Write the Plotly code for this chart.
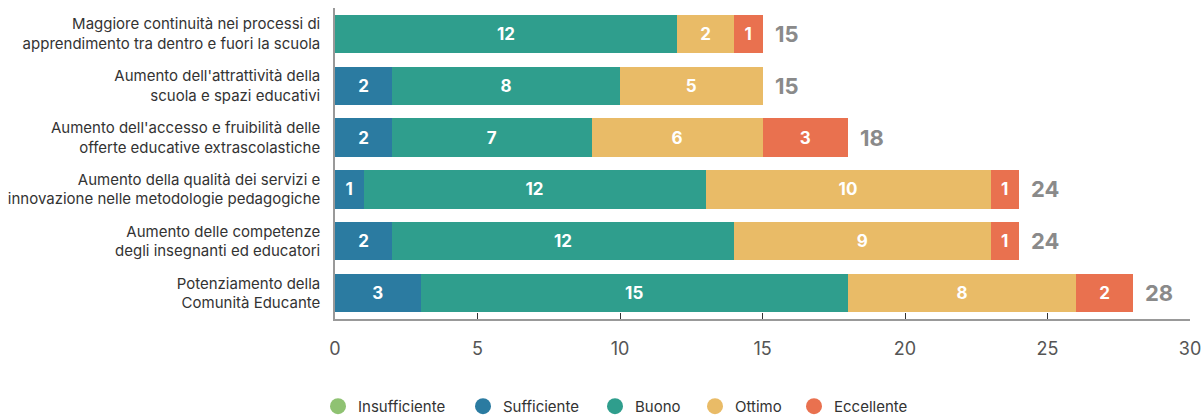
import plotly.graph_objects as go

categories = [
    "Maggiore continuità nei processi di<br>apprendimento tra dentro e fuori la scuola",
    "Aumento dell'attrattività della<br>scuola e spazi educativi",
    "Aumento dell'accesso e fruibilità delle<br>offerte educative extrascolastiche",
    "Aumento della qualità dei servizi e<br>innovazione nelle metodologie pedagogiche",
    "Aumento delle competenze<br>degli insegnanti ed educatori",
    "Potenziamento della<br>Comunità Educante",
]
insufficiente = [0, 0, 0, 0, 0, 0]
sufficiente = [0, 2, 2, 1, 2, 3]
buono = [12, 8, 7, 12, 12, 15]
ottimo = [2, 5, 6, 10, 9, 8]
eccellente = [1, 0, 3, 1, 1, 2]
tick_vals = [0, 5, 10, 15, 20, 25, 30]

series = [
    ("Insufficiente", insufficiente, "#8fc272"),
    ("Sufficiente", sufficiente, "#2b7ba1"),
    ("Buono", buono, "#2f9e8d"),
    ("Ottimo", ottimo, "#e9bb67"),
    ("Eccellente", eccellente, "#e9714f"),
]
totals = [sum(v) for v in zip(insufficiente, sufficiente, buono, ottimo, eccellente)]

W, H = 1204, 418
legend_x_px = [318, 463, 595, 695, 794]

FONT = "Inter"
fig = go.Figure()
layout_legends = {}
for i, (name, vals, col) in enumerate(series):
    lg = "legend" if i == 0 else "legend%d" % (i + 1)
    fig.add_trace(go.Bar(
        y=categories, x=vals, orientation="h", name=name,
        marker=dict(color=col, line=dict(width=0)),
        text=["<b>%d</b>" % v if v else "" for v in vals],
        textposition="inside", insidetextanchor="middle", textangle=0,
        textfont=dict(color="white", size=17, family=FONT),
        showlegend=False, hoverinfo="skip",
    ))
    fig.add_trace(go.Scatter(
        x=[None], y=[None], mode="markers", name=name,
        marker=dict(color=col, size=17, symbol="circle"),
        showlegend=True, legend=lg,
    ))
    layout_legends[lg] = dict(
        orientation="h", xref="container", yref="paper",
        x=legend_x_px[i] / W, y=-0.281, xanchor="left", yanchor="middle",
        font=dict(size=15, color="#333333"), itemwidth=30,
        bgcolor="rgba(0,0,0,0)",
    )

for cat, t in zip(categories, totals):
    fig.add_annotation(
        x=t, y=cat, text="<b>%d</b>" % t, showarrow=False,
        xanchor="left", xshift=10,
        font=dict(color="#8a8a8a", size=22, family=FONT),
    )

fig.update_layout(
    barmode="stack", bargap=0.26,
    width=W, height=H,
    margin=dict(l=335, r=14, t=8, b=99, autoexpand=False),
    paper_bgcolor="white", plot_bgcolor="white",
    font=dict(family=FONT, color="#333333"),
    **layout_legends,
)
fig.update_xaxes(
    range=[0, 30], tickvals=tick_vals, showgrid=False, zeroline=False,
    showline=True, linecolor="#999999", linewidth=1.5, automargin=False,
    ticks="inside", ticklen=6, tickcolor="#333333", tickwidth=1.2,
    tickfont=dict(size=18, color="#555555"), ticklabelstandoff=13,
)
fig.update_yaxes(
    autorange="reversed", showgrid=False, zeroline=False, automargin=False,
    showline=True, linecolor="#999999", linewidth=1.5,
    ticks="", tickfont=dict(size=15, color="#333333"), ticklabelstandoff=10,
)

fig.write_html(
    "out.html",
    config={"displayModeBar": False},
    post_script="document.body.style.margin='0';document.body.style.overflow='hidden';",
)
